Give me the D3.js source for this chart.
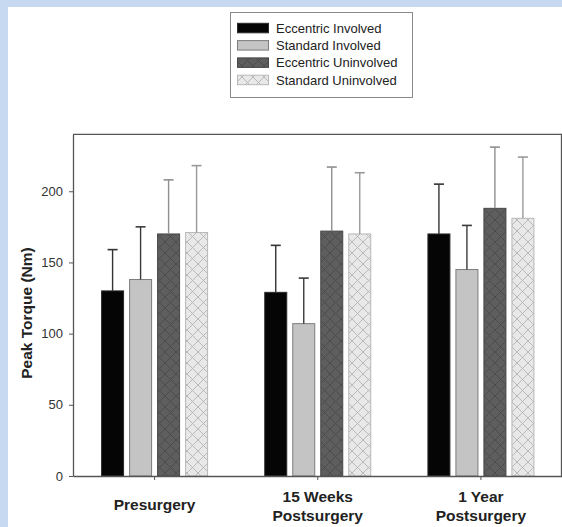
<!DOCTYPE html>
<html>
<head>
<meta charset="utf-8">
<script src="https://cdn.jsdelivr.net/npm/d3@7/dist/d3.min.js"></script>
<style>
  html, body { margin: 0; padding: 0; background: #c6d9f1; }
  svg { display: block; }
</style>
</head>
<body>
<script>
const categories = [["Presurgery"], ["15 Weeks", "Postsurgery"], ["1 Year", "Postsurgery"]];
const seriesNames = ["Eccentric Involved", "Standard Involved", "Eccentric Uninvolved", "Standard Uninvolved"];
// mean values per series (one per category)
const eccentricInvolved = [130, 129, 170];
const standardInvolved = [138, 107, 145];
const eccentricUninvolved = [170, 172, 188];
const standardUninvolved = [171, 170, 181];
// upper error bar ends
const eccentricInvolvedErr = [159, 162, 205];
const standardInvolvedErr = [175, 139, 176];
const eccentricUninvolvedErr = [208, 217, 231];
const standardUninvolvedErr = [218, 213, 224];
const yTicks = [0, 50, 100, 150, 200];

const values = [eccentricInvolved, standardInvolved, eccentricUninvolved, standardUninvolved];
const errs = [eccentricInvolvedErr, standardInvolvedErr, eccentricUninvolvedErr, standardUninvolvedErr];

const W = 562, H = 527;
const svg = d3.select("body").append("svg").attr("width", W).attr("height", H);
const font = "'Liberation Sans', Arial, Helvetica, sans-serif";

// white panel
svg.append("rect").attr("x", 8).attr("y", 7).attr("width", W - 8).attr("height", H - 7).attr("fill", "#ffffff");

const defs = svg.append("defs");
function cross(id, bg, line) {
  const p = defs.append("pattern").attr("id", id).attr("patternUnits", "userSpaceOnUse")
    .attr("width", 11).attr("height", 11);
  p.append("rect").attr("width", 11).attr("height", 11).attr("fill", bg);
  p.append("path").attr("d", "M0,0L11,11M11,0L0,11M-1,10L1,12M10,-1L12,1")
    .attr("stroke", line).attr("stroke-width", 0.9).attr("fill", "none");
}
cross("hatchDark", "#5e5e5e", "#4a4a4a");
cross("hatchLight", "#e8e8e8", "#b3b3b3");

const fills = ["#050505", "#c4c4c4", "url(#hatchDark)", "url(#hatchLight)"];
const strokes = ["#2a2a2a", "#7d7d7d", "#474747", "#b8b8b8"];
const errColors = ["#333333", "#3a3a3a", "#8f8f8f", "#999999"];

const pLeft = 73, pRight = 561.5, pTop = 134.3, pBottom = 476;
const x0 = d3.scaleBand().domain(d3.range(categories.length)).range([pLeft, pRight + 1]).paddingInner(0).paddingOuter(0);
const y = d3.scaleLinear().domain([0, 240]).range([pBottom, pTop]);

const x1 = d3.scaleBand().domain(d3.range(seriesNames.length))
  .range([-53, 53]).paddingInner(6 / 28).paddingOuter(0);

// frame (top & right borders)
svg.append("path")
  .attr("d", `M${pLeft},${pTop}H${pRight}V${pBottom}`)
  .attr("fill", "none").attr("stroke", "#555").attr("stroke-width", 1.3);

// bars
const g = svg.append("g");
categories.forEach((c, ci) => {
  const cx = x0(ci) + x0.bandwidth() / 2;
  seriesNames.forEach((s, si) => {
    const bx = cx + x1(si);
    const bw = x1.bandwidth();
    const v = values[si][ci];
    g.append("rect")
      .attr("x", bx).attr("y", y(v)).attr("width", bw).attr("height", y(0) - y(v))
      .attr("fill", fills[si]).attr("stroke", strokes[si]).attr("stroke-width", 1);
    const mx = bx + bw / 2;
    const e = errs[si][ci];
    g.append("line").attr("x1", mx).attr("x2", mx).attr("y1", y(v)).attr("y2", y(e))
      .attr("stroke", errColors[si]).attr("stroke-width", 1.4);
    g.append("line").attr("x1", mx - 5).attr("x2", mx + 5).attr("y1", y(e)).attr("y2", y(e))
      .attr("stroke", errColors[si]).attr("stroke-width", 1.6);
  });
});

// y axis
const yAxis = svg.append("g").attr("transform", `translate(${pLeft},0)`)
  .call(d3.axisLeft(y).tickValues(yTicks).tickSize(4).tickPadding(6).tickSizeOuter(0));
yAxis.select(".domain").attr("stroke", "#555").attr("stroke-width", 1.3);
yAxis.selectAll(".tick line").attr("stroke", "#555");
yAxis.selectAll("text").attr("font-family", font).attr("font-size", 13).attr("fill", "#333");

// x axis
const xAxis = svg.append("g").attr("transform", `translate(0,${pBottom})`)
  .call(d3.axisBottom(x0).tickSize(4).tickSizeOuter(0).tickFormat(""));
xAxis.select(".domain").attr("stroke", "#555").attr("stroke-width", 1.3);
xAxis.selectAll(".tick line").attr("stroke", "#555");

// x category labels
categories.forEach((lines, ci) => {
  const cx = x0(ci) + x0.bandwidth() / 2;
  const t = svg.append("text").attr("text-anchor", "middle")
    .attr("font-family", font).attr("font-weight", "bold").attr("font-size", 15.5).attr("fill", "#222");
  const base = lines.length === 1 ? 509.5 : 501.7;
  lines.forEach((l, li) => {
    t.append("tspan").attr("x", cx).attr("y", base + li * 19).text(l);
  });
});

// y axis label
svg.append("text")
  .attr("transform", `translate(31.5,${313}) rotate(-90)`)
  .attr("text-anchor", "middle")
  .attr("font-family", font).attr("font-weight", "bold").attr("font-size", 15.5).attr("fill", "#222")
  .text("Peak Torque (Nm)");

// legend
const lg = svg.append("g");
lg.append("rect").attr("x", 230.5).attr("y", 12.5).attr("width", 182).attr("height", 85)
  .attr("fill", "#fff").attr("stroke", "#8a8a8a").attr("stroke-width", 1);
seriesNames.forEach((s, si) => {
  const ry = 23.3 + si * 17.3;
  lg.append("rect").attr("x", 237.5).attr("y", ry).attr("width", 31).attr("height", 9.5)
    .attr("fill", fills[si]).attr("stroke", strokes[si]).attr("stroke-width", 1);
  lg.append("text").attr("x", 276).attr("y", ry + 9.5)
    .attr("font-family", font).attr("font-size", 13).attr("fill", "#222").text(s);
});
</script>
</body>
</html>
